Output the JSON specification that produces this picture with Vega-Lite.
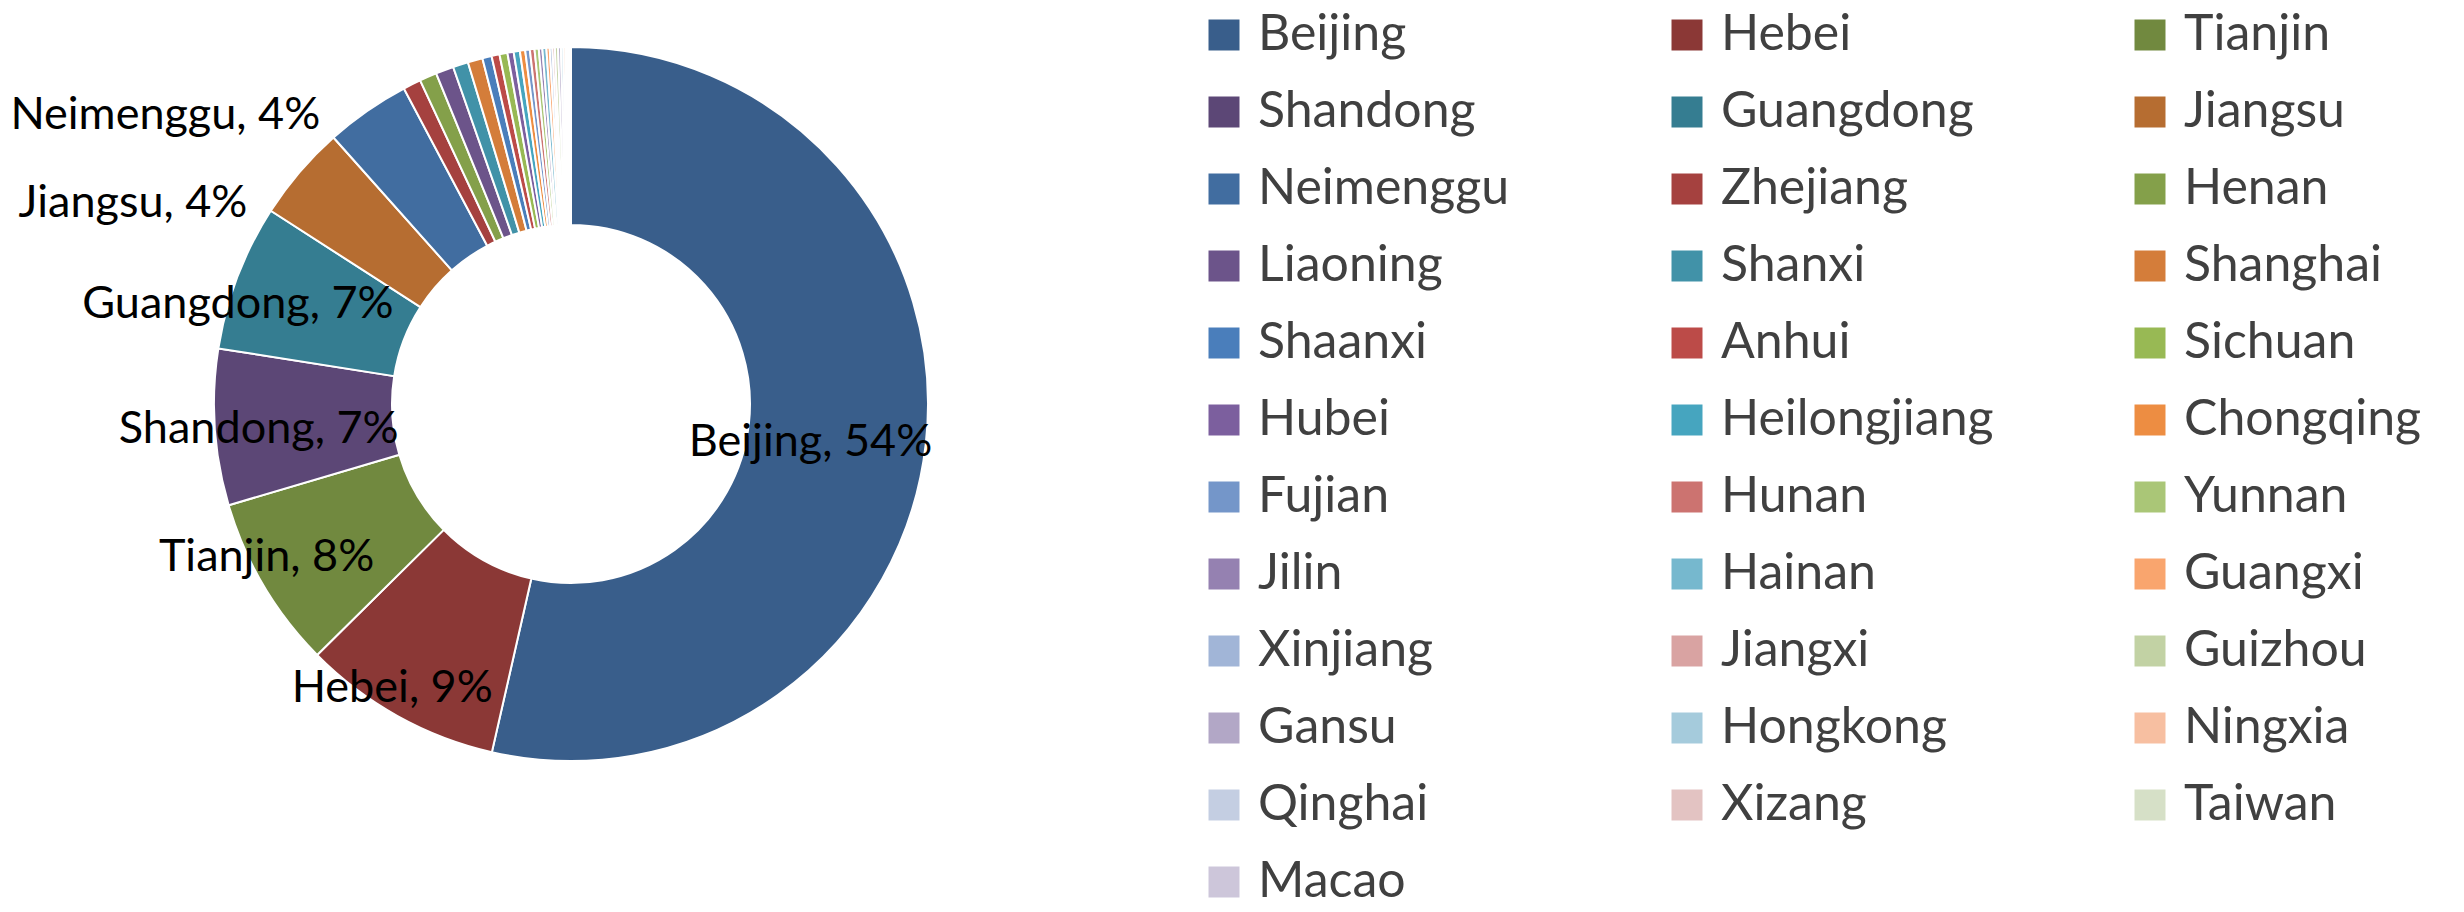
{
  "$schema": "https://vega.github.io/schema/vega-lite/v6.json",
  "width": 1142,
  "height": 808,
  "autosize": {"type": "pad"},
  "padding": 0,
  "background": "white",
  "config": {"view": {"stroke": null}, "font": "Lato"},
  "data": {
    "values": [
      {"idx": 1, "name": "Beijing", "value": 53.53, "label": "Beijing, 54%"},
      {"idx": 2, "name": "Hebei", "value": 9.03, "label": "Hebei, 9%"},
      {"idx": 3, "name": "Tianjin", "value": 7.83, "label": "Tianjin, 8%"},
      {"idx": 4, "name": "Shandong", "value": 7.06, "label": "Shandong, 7%"},
      {"idx": 5, "name": "Guangdong", "value": 6.61, "label": "Guangdong, 7%"},
      {"idx": 6, "name": "Jiangsu", "value": 4.31, "label": "Jiangsu, 4%"},
      {"idx": 7, "name": "Neimenggu", "value": 3.83, "label": "Neimenggu, 4%"},
      {"idx": 8, "name": "Zhejiang", "value": 0.81, "label": "Zhejiang, 1%"},
      {"idx": 9, "name": "Henan", "value": 0.78, "label": "Henan, 1%"},
      {"idx": 10, "name": "Liaoning", "value": 0.81, "label": "Liaoning, 1%"},
      {"idx": 11, "name": "Shanxi", "value": 0.69, "label": "Shanxi, 1%"},
      {"idx": 12, "name": "Shanghai", "value": 0.67, "label": "Shanghai, 1%"},
      {"idx": 13, "name": "Shaanxi", "value": 0.42, "label": "Shaanxi, 0%"},
      {"idx": 14, "name": "Anhui", "value": 0.36, "label": "Anhui, 0%"},
      {"idx": 15, "name": "Sichuan", "value": 0.36, "label": "Sichuan, 0%"},
      {"idx": 16, "name": "Hubei", "value": 0.28, "label": "Hubei, 0%"},
      {"idx": 17, "name": "Heilongjiang", "value": 0.28, "label": "Heilongjiang, 0%"},
      {"idx": 18, "name": "Chongqing", "value": 0.24, "label": "Chongqing, 0%"},
      {"idx": 19, "name": "Fujian", "value": 0.21, "label": "Fujian, 0%"},
      {"idx": 20, "name": "Hunan", "value": 0.21, "label": "Hunan, 0%"},
      {"idx": 21, "name": "Yunnan", "value": 0.19, "label": "Yunnan, 0%"},
      {"idx": 22, "name": "Jilin", "value": 0.16, "label": "Jilin, 0%"},
      {"idx": 23, "name": "Hainan", "value": 0.18, "label": "Hainan, 0%"},
      {"idx": 24, "name": "Guangxi", "value": 0.15, "label": "Guangxi, 0%"},
      {"idx": 25, "name": "Xinjiang", "value": 0.12, "label": "Xinjiang, 0%"},
      {"idx": 26, "name": "Jiangxi", "value": 0.11, "label": "Jiangxi, 0%"},
      {"idx": 27, "name": "Guizhou", "value": 0.14, "label": "Guizhou, 0%"},
      {"idx": 28, "name": "Gansu", "value": 0.13, "label": "Gansu, 0%"},
      {"idx": 29, "name": "Hongkong", "value": 0.11, "label": "Hongkong, 0%"},
      {"idx": 30, "name": "Ningxia", "value": 0.10, "label": "Ningxia, 0%"},
      {"idx": 31, "name": "Qinghai", "value": 0.08, "label": "Qinghai, 0%"},
      {"idx": 32, "name": "Xizang", "value": 0.07, "label": "Xizang, 0%"},
      {"idx": 33, "name": "Taiwan", "value": 0.06, "label": "Taiwan, 0%"},
      {"idx": 34, "name": "Macao", "value": 0.03, "label": "Macao, 0%"}
    ]
  },
  "encoding": {
    "theta": {"field": "value", "type": "quantitative", "stack": true},
    "order": {"field": "idx", "type": "quantitative"}
  },
  "layer": [
    {
      "mark": {"type": "arc", "outerRadius": 357, "innerRadius": 179, "stroke": "white", "strokeWidth": 2},
      "encoding": {
        "color": {
          "field": "name",
          "type": "nominal",
          "sort": ["Beijing","Hebei","Tianjin","Shandong","Guangdong","Jiangsu","Neimenggu","Zhejiang","Henan","Liaoning","Shanxi","Shanghai","Shaanxi","Anhui","Sichuan","Hubei","Heilongjiang","Chongqing","Fujian","Hunan","Yunnan","Jilin","Hainan","Guangxi","Xinjiang","Jiangxi","Guizhou","Gansu","Hongkong","Ningxia","Qinghai","Xizang","Taiwan","Macao"],
          "scale": {
            "domain": ["Beijing","Hebei","Tianjin","Shandong","Guangdong","Jiangsu","Neimenggu","Zhejiang","Henan","Liaoning","Shanxi","Shanghai","Shaanxi","Anhui","Sichuan","Hubei","Heilongjiang","Chongqing","Fujian","Hunan","Yunnan","Jilin","Hainan","Guangxi","Xinjiang","Jiangxi","Guizhou","Gansu","Hongkong","Ningxia","Qinghai","Xizang","Taiwan","Macao"],
            "range": ["#395E8B","#8B3836","#71893F","#5C4776","#357D91","#B66D31","#416DA0","#A5413F","#84A04A","#6C548A","#4192A8","#D47D3A","#4A7EBB","#BC4B48","#98B954","#7C5F9E","#46A5BF","#ED8D42","#7496C9","#CC7370","#AAC677","#9581B1","#76B8CE","#F9A56E","#A1B5D7","#D9A3A2","#C2D2A4","#B2A7C6","#A5CBDC","#F7BFA1","#C4CEE2","#E3C3C2","#D6E0C7","#CDC6DA"]
          },
          "legend": {
            "title": null,
            "orient": "none",
            "direction": "horizontal",
            "legendX": 1199,
            "legendY": 10,
            "columns": 3,
            "gridAlign": "all",
            "columnPadding": 131,
            "rowPadding": 27,
            "symbolType": "square",
            "symbolSize": 961,
            "symbolStrokeWidth": 0,
            "symbolLimit": 50,
            "labelLimit": 500,
            "labelFont": "Lato",
            "labelFontSize": 50,
            "labelColor": "#404040",
            "labelOffset": 9,
            "padding": 0
          }
        }
      }
    },
    {
      "mark": {"type": "text", "radius": 241, "font": "Lato", "fontSize": 45, "color": "black", "align": "center", "baseline": "middle", "dy": 11},
      "encoding": {"text": {"condition": {"test": "datum.name === 'Beijing'", "field": "label"}, "value": ""}}
    },
    {
      "mark": {"type": "text", "radius": 335, "font": "Lato", "fontSize": 45, "color": "black", "align": "center", "baseline": "middle", "dx": -16, "dy": -9},
      "encoding": {"text": {"condition": {"test": "datum.name === 'Hebei'", "field": "label"}, "value": ""}}
    },
    {
      "mark": {"type": "text", "radius": 335, "font": "Lato", "fontSize": 45, "color": "black", "align": "center", "baseline": "middle", "dx": -16, "dy": -17},
      "encoding": {"text": {"condition": {"test": "datum.name === 'Tianjin'", "field": "label"}, "value": ""}}
    },
    {
      "mark": {"type": "text", "radius": 335, "font": "Lato", "fontSize": 45, "color": "black", "align": "center", "baseline": "middle", "dx": 22, "dy": 3},
      "encoding": {"text": {"condition": {"test": "datum.name === 'Shandong'", "field": "label"}, "value": ""}}
    },
    {
      "mark": {"type": "text", "radius": 335, "font": "Lato", "fontSize": 45, "color": "black", "align": "center", "baseline": "middle", "dx": -20, "dy": 19},
      "encoding": {"text": {"condition": {"test": "datum.name === 'Guangdong'", "field": "label"}, "value": ""}}
    },
    {
      "mark": {"type": "text", "radius": 385, "font": "Lato", "fontSize": 45, "color": "black", "align": "right", "baseline": "middle", "dx": -31, "dy": 49},
      "encoding": {"text": {"condition": {"test": "datum.name === 'Jiangsu'", "field": "label"}, "value": ""}}
    },
    {
      "mark": {"type": "text", "radius": 385, "font": "Lato", "fontSize": 45, "color": "black", "align": "right", "baseline": "middle", "dx": -31, "dy": 27},
      "encoding": {"text": {"condition": {"test": "datum.name === 'Neimenggu'", "field": "label"}, "value": ""}}
    }
  ]
}
